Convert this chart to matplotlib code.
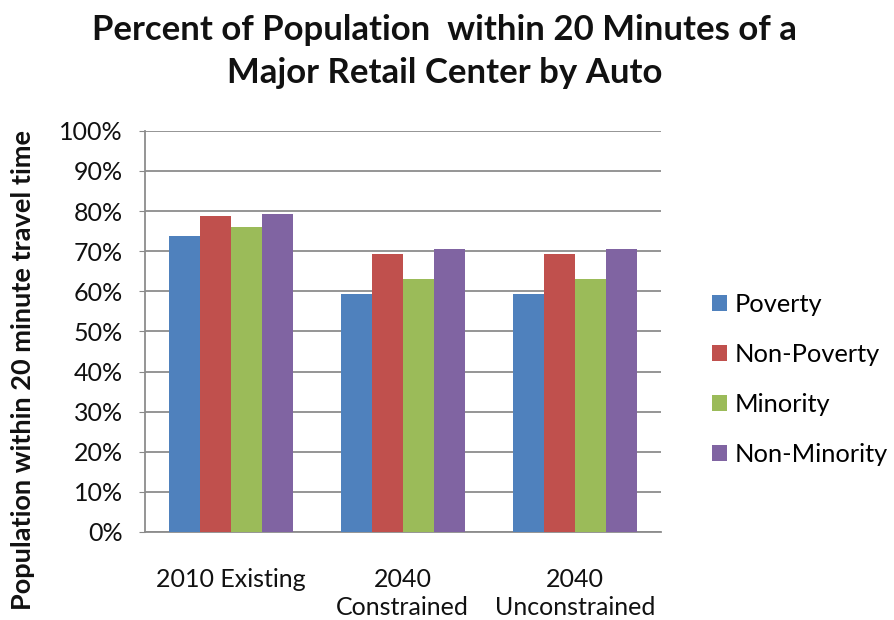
import matplotlib
matplotlib.use("Agg")
import matplotlib.pyplot as plt
import numpy as np
from matplotlib.ticker import PercentFormatter

categories = ["2010 Existing", "2040\nConstrained", "2040\nUnconstrained"]
series_names = ["Poverty", "Non-Poverty", "Minority", "Non-Minority"]
poverty = [73.8, 59.3, 59.3]
non_poverty = [78.8, 69.3, 69.3]
minority = [75.9, 63.0, 63.0]
non_minority = [79.2, 70.5, 70.5]
colors = ["#4F81BD", "#C0504D", "#9BBB59", "#8064A2"]

plt.rcParams['font.family'] = ['Lato', 'DejaVu Sans']

fig = plt.figure(figsize=(8.94, 6.20), dpi=100)
ax = fig.add_axes([0.162, 0.142, 0.577, 0.647])

x = np.arange(len(categories))
width = 0.18
all_series = [poverty, non_poverty, minority, non_minority]
for i, (vals, name, c) in enumerate(zip(all_series, series_names, colors)):
    ax.bar(x + (i - 1.5) * width, vals, width, color=c, label=name, zorder=3)

ax.set_xlim(-0.5, 2.5)
ax.set_ylim(0, 100)
ax.set_yticks(np.arange(0, 101, 10))
ax.yaxis.set_major_formatter(PercentFormatter(decimals=0))
ax.set_xticks(x)
ax.set_xticklabels(categories, fontsize=18, color="#111111", linespacing=1.25)
ax.tick_params(axis='x', length=0, pad=26)
ax.tick_params(axis='y', length=4, color="#888888", labelsize=18, labelcolor="#111111", pad=12)
ax.grid(axis='y', color="#8c8c8c", linewidth=1.3, zorder=0)
for s in ["top", "right"]:
    ax.spines[s].set_visible(False)
for s in ["left", "bottom"]:
    ax.spines[s].set_color("#8c8c8c")
    ax.spines[s].set_linewidth(1.3)

fig.text(0.497, 0.978, "Percent of Population  within 20 Minutes of a\nMajor Retail Center by Auto",
         ha='center', va='top', fontsize=25, fontweight='bold', linespacing=1.45, color="#111111")
fig.text(0.026, 0.403, "Population within 20 minute travel time", rotation=90,
         ha='center', va='center', fontsize=19.5, fontweight='bold', color="#111111")

handles, labels = ax.get_legend_handles_labels()
fig.legend(handles, labels, loc='center left', bbox_to_anchor=(0.796, 0.388),
           frameon=False, fontsize=18.3, handlelength=0.6, handleheight=0.6,
           handletextpad=0.3, labelspacing=1.06, borderpad=0, borderaxespad=0)

fig.savefig("out.png", dpi=100, facecolor="white")
